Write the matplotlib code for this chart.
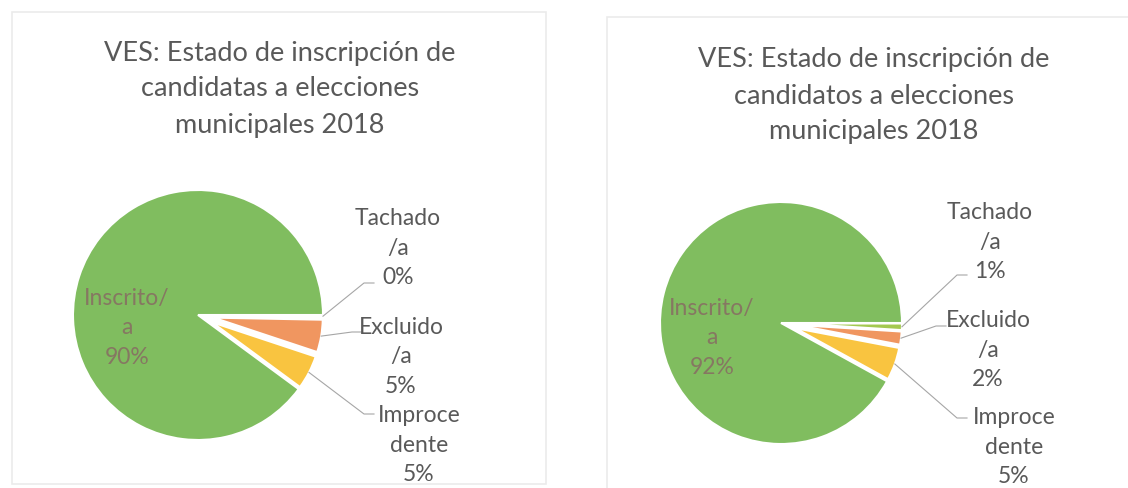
import numpy as np
import matplotlib
matplotlib.use("Agg")
import matplotlib.pyplot as plt
from matplotlib.patches import Rectangle

# ── data ──────────────────────────────────────────────────────────────────────
# order follows the wedges clockwise from 3 o'clock
categories = ["Tachado /a", "Excluido /a", "Improcedente", "Inscrito/a"]
label_lines = ["Tachado\n/a", "Excluido\n/a", "Improce\ndente", "Inscrito/\na"]
share_candidatas = [0.3, 4.8, 5.0, 89.9]
share_candidatos = [1.0, 2.0, 5.0, 92.0]
titles = [
    "VES: Estado de inscripción de\ncandidatas a elecciones\nmunicipales 2018",
    "VES: Estado de inscripción de\ncandidatos a elecciones\nmunicipales 2018",
]

colors = ["#a4c850", "#f09660", "#f9c440", "#80bd5f"]
# small slices are pulled out and drawn a bit smaller, as in the Excel original
explode_frac = [0.125, 0.125, 0.125, 0.0]
shrink = [0.875, 0.875, 0.875, 1.0]

W, H = 1128, 488
plt.rcParams["font.family"] = ["Lato", "DejaVu Sans"]

fig = plt.figure(figsize=(W / 100, H / 100), dpi=100)
ax = fig.add_axes([0, 0, 1, 1])


def yy(y):
    # pixel row (top-down) -> data y (bottom-up)
    return H - y


# ── panel layout (pixels) ─────────────────────────────────────────────────────
panels = [
    dict(shares=share_candidatas, title=titles[0], box=(12, 12, 546, 484),
         title_xy=(280, 89), center=(198, 315), r=125,
         inner_xy=(127, 328),
         out_xy=[(398, 248), (401, 357), (419, 445)],
         elbow=[(364, 283), (352, 332), (364, 414)]),
    dict(shares=share_candidatos, title=titles[1], box=(607, 17, 1140, 500),
         title_xy=(874, 96), center=(781, 323), r=121,
         inner_xy=(712, 338),
         out_xy=[(990, 242), (988, 350), (1014, 447)],
         elbow=[(957, 275), (936, 326), (957, 418)]),
]

for p in panels:
    x0, y0, x1, y1 = p["box"]
    ax.add_patch(Rectangle((x0, yy(y1)), x1 - x0, y1 - y0, fill=False,
                           edgecolor="#ebebeb", linewidth=1.2, zorder=0))

    cx, cy = p["center"]
    r = p["r"]
    # matplotlib's explode is an absolute offset, so scale by the radius
    wedges, _ = ax.pie(p["shares"], colors=colors,
                       explode=[e * r for e in explode_frac],
                       startangle=0, counterclock=False,
                       center=(cx, yy(cy)), radius=r,
                       wedgeprops=dict(edgecolor="white", linewidth=1.5))
    for w, s in zip(wedges, shrink):
        w.set_radius(r * s)

    ax.text(p["title_xy"][0], yy(p["title_xy"][1]), p["title"],
            ha="center", va="center", fontsize=19.5, color="#595959",
            linespacing=1.55)

    total = sum(p["shares"])
    pct = [f"{v / total * 100:.0f}%" for v in p["shares"]]

    # label inside the big slice
    ax.text(p["inner_xy"][0], yy(p["inner_xy"][1]),
            f"{label_lines[3]}\n{pct[3]}", ha="center", va="center",
            fontsize=16.5, color="#867762", linespacing=1.5)

    # outside labels with leader lines for the small slices
    for i in range(3):
        w = wedges[i]
        ang = np.deg2rad((w.theta1 + w.theta2) / 2)
        sx = w.center[0] + w.r * np.cos(ang)
        sy = w.center[1] + w.r * np.sin(ang)
        ex, ey = p["elbow"][i]
        ax.plot([sx, ex, ex + 10], [sy, yy(ey), yy(ey)],
                color="#a6a6a6", lw=0.8, zorder=3)
        lx, ly = p["out_xy"][i]
        ax.text(lx, yy(ly), f"{label_lines[i]}\n{pct[i]}",
                ha="center", va="center", fontsize=16.5, color="#595959",
                linespacing=1.5)

ax.set_xlim(0, W)
ax.set_ylim(0, H)
ax.set_aspect("auto")
ax.axis("off")

fig.savefig("out.png", dpi=100)
